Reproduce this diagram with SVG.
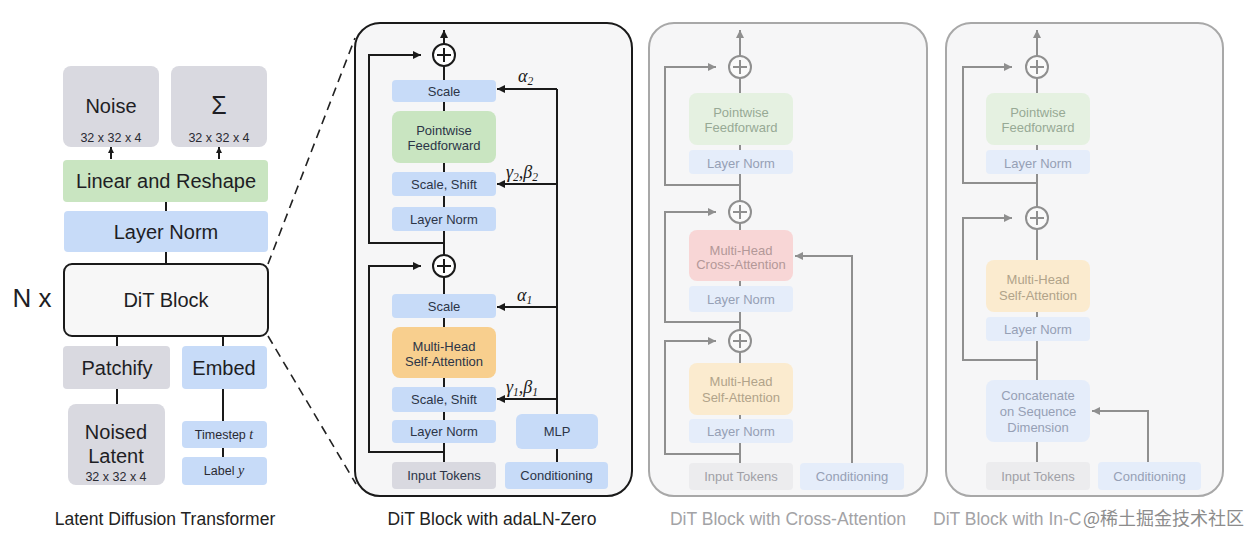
<svg xmlns="http://www.w3.org/2000/svg" width="1246" height="536" viewBox="0 0 1246 536">
<defs>
<style>
text{font-family:"Liberation Sans",Arial,sans-serif;text-anchor:middle}
.b20{font-size:20px;fill:#1e1e24}
.s12{font-size:12.5px;fill:#2a2a32}
.s13{font-size:13px;fill:#2c3547}
.cap{font-size:17.5px;fill:#222}
.capf{font-size:17.5px;fill:#a3a3a6}
.gk{font-family:"Liberation Serif","Times New Roman",serif;font-style:italic;font-size:18px;fill:#1a1a1a;text-anchor:start}
.sub{font-size:11.5px}
.ln{stroke:#1a1a1a;stroke-width:2;fill:none}
.lnf{stroke:#8f8f8f;stroke-width:2;fill:none}
.dash{stroke:#222;stroke-width:1.6;fill:none;stroke-dasharray:9 6}
.gray{fill:#d9d9e0}
.green{fill:#c9e5c1}
.blue{fill:#c7dbf8}
.orange{fill:#f8cf8e}
.panel{fill:#f6f6f7}
.fgreen{fill:#e5f1e1}
.fblue{fill:#e5edfa}
.fpink{fill:#f8d6d6}
.forange{fill:#fbebcf}
.fgray{fill:#ececee}
.tg{font-size:13px;fill:#97a995}
.tb{font-size:13px;fill:#96a0b5}
.tp{font-size:13px;fill:#b39898}
.to{font-size:13px;fill:#b1a38a}
.ty{font-size:13px;fill:#a0a0a6}
.circ{fill:#ffffff;stroke:#1a1a1a;stroke-width:2}
.circf{fill:#fafafa;stroke:#8f8f8f;stroke-width:2}
</style>
<marker id="ah" viewBox="0 0 10 10" refX="10" refY="5" markerWidth="8" markerHeight="8" markerUnits="userSpaceOnUse" orient="auto"><path d="M0,0 L10,5 L0,10 z" fill="#1a1a1a"/></marker>
<marker id="ahs" viewBox="0 0 10 10" refX="10" refY="5" markerWidth="6" markerHeight="6" markerUnits="userSpaceOnUse" orient="auto"><path d="M0,0 L10,5 L0,10 z" fill="#1a1a1a"/></marker>
<marker id="ahg" viewBox="0 0 10 10" refX="10" refY="5" markerWidth="8" markerHeight="8" markerUnits="userSpaceOnUse" orient="auto"><path d="M0,0 L10,5 L0,10 z" fill="#8f8f8f"/></marker>
</defs>
<rect width="1246" height="536" fill="#ffffff"/>

<!-- Panels -->
<g id="panel-adaln"><rect class="panel" x="355" y="23" width="277" height="473" rx="25" stroke="#1a1a1a" stroke-width="2"/></g>
<g id="panel-cross"><rect class="panel" x="649" y="23" width="278" height="473" rx="25" stroke="#a8a8a8" stroke-width="2"/></g>
<g id="panel-incontext"><rect class="panel" x="946" y="23" width="277" height="473" rx="25" stroke="#a8a8a8" stroke-width="2"/></g>

<!-- Connectors -->
<g id="connectors">
  <!-- left panel -->
  <line class="ln" x1="111" y1="159" x2="111" y2="147" marker-end="url(#ahs)"/>
  <line class="ln" x1="219" y1="159" x2="219" y2="147" marker-end="url(#ahs)"/>
  <line class="ln" x1="166" y1="202" x2="166" y2="211"/>
  <line class="ln" x1="166" y1="252" x2="166" y2="264"/>
  <line class="ln" x1="117" y1="336" x2="117" y2="346"/>
  <line class="ln" x1="223" y1="336" x2="223" y2="346"/>
  <line class="ln" x1="117" y1="389" x2="117" y2="404"/>
  <line class="ln" x1="223" y1="389" x2="223" y2="421"/>
  <line class="ln" x1="223" y1="448" x2="223" y2="457"/>
  <line class="dash" x1="268" y1="264" x2="355" y2="38"/>
  <line class="dash" x1="268" y1="336" x2="356" y2="484"/>

  <!-- adaLN panel -->
  <line class="ln" x1="444" y1="44" x2="444" y2="30" marker-end="url(#ah)"/>
  <line class="ln" x1="444" y1="66" x2="444" y2="80"/>
  <line class="ln" x1="444" y1="102" x2="444" y2="111"/>
  <line class="ln" x1="444" y1="163" x2="444" y2="172"/>
  <line class="ln" x1="444" y1="196" x2="444" y2="207"/>
  <line class="ln" x1="444" y1="231" x2="444" y2="255"/>
  <polyline class="ln" points="444,243 369,243 369,55 421,55" marker-end="url(#ah)"/>
  <line class="ln" x1="444" y1="277" x2="444" y2="294"/>
  <line class="ln" x1="444" y1="318" x2="444" y2="327"/>
  <line class="ln" x1="444" y1="378" x2="444" y2="387"/>
  <line class="ln" x1="444" y1="412" x2="444" y2="420"/>
  <line class="ln" x1="444" y1="443" x2="444" y2="462"/>
  <polyline class="ln" points="444,452 369,452 369,266 421,266" marker-end="url(#ah)"/>
  <line class="ln" x1="557" y1="89" x2="557" y2="414"/>
  <line class="ln" x1="557" y1="449" x2="557" y2="462"/>
  <line class="ln" x1="557" y1="89" x2="497" y2="89" marker-end="url(#ah)"/>
  <line class="ln" x1="557" y1="184" x2="497" y2="184" marker-end="url(#ah)"/>
  <line class="ln" x1="557" y1="307" x2="497" y2="307" marker-end="url(#ah)"/>
  <line class="ln" x1="557" y1="399" x2="497" y2="399" marker-end="url(#ah)"/>

  <!-- cross-attention panel -->
  <line class="lnf" x1="740" y1="56" x2="740" y2="30" marker-end="url(#ahg)"/>
  <line class="lnf" x1="740" y1="78" x2="740" y2="93"/>
  <line class="lnf" x1="740" y1="145" x2="740" y2="150"/>
  <line class="lnf" x1="740" y1="174" x2="740" y2="201"/>
  <polyline class="lnf" points="740,185 665,185 665,67 716,67" marker-end="url(#ahg)"/>
  <line class="lnf" x1="740" y1="223" x2="740" y2="230"/>
  <line class="lnf" x1="740" y1="281" x2="740" y2="286"/>
  <line class="lnf" x1="740" y1="312" x2="740" y2="330"/>
  <polyline class="lnf" points="740,322 665,322 665,212 716,212" marker-end="url(#ahg)"/>
  <line class="lnf" x1="740" y1="352" x2="740" y2="363"/>
  <line class="lnf" x1="740" y1="415" x2="740" y2="419"/>
  <line class="lnf" x1="740" y1="443" x2="740" y2="463"/>
  <polyline class="lnf" points="740,454 665,454 665,341 716,341" marker-end="url(#ahg)"/>
  <polyline class="lnf" points="852,463 852,256 795,256" marker-end="url(#ahg)"/>

  <!-- in-context panel -->
  <line class="lnf" x1="1037" y1="56" x2="1037" y2="30" marker-end="url(#ahg)"/>
  <line class="lnf" x1="1037" y1="78" x2="1037" y2="93"/>
  <line class="lnf" x1="1037" y1="145" x2="1037" y2="150"/>
  <line class="lnf" x1="1037" y1="174" x2="1037" y2="207"/>
  <polyline class="lnf" points="1037,183 963,183 963,67 1012,67" marker-end="url(#ahg)"/>
  <line class="lnf" x1="1037" y1="229" x2="1037" y2="260"/>
  <line class="lnf" x1="1037" y1="312" x2="1037" y2="317"/>
  <line class="lnf" x1="1037" y1="341" x2="1037" y2="380"/>
  <polyline class="lnf" points="1037,360 963,360 963,218 1012,218" marker-end="url(#ahg)"/>
  <line class="lnf" x1="1037" y1="442" x2="1037" y2="462"/>
  <polyline class="lnf" points="1148,462 1148,411 1092,411" marker-end="url(#ahg)"/>
</g>

<!-- Left panel nodes -->
<g id="noise"><rect class="gray" x="63" y="66" width="96" height="81" rx="8"/><text class="b20" x="111" y="113">Noise</text><text class="s12" x="111" y="142">32 x 32 x 4</text></g>
<g id="sigma"><rect class="gray" x="171" y="66" width="96" height="81" rx="8"/><text class="b20" x="219" y="114" style="font-size:25px">Σ</text><text class="s12" x="219" y="142">32 x 32 x 4</text></g>
<g id="linear-reshape"><rect class="green" x="63" y="160" width="205" height="42" rx="4"/><text class="b20" x="166" y="188">Linear and Reshape</text></g>
<g id="layer-norm-out"><rect class="blue" x="64" y="211" width="204" height="41" rx="4"/><text class="b20" x="166" y="239">Layer Norm</text></g>
<g id="dit-block"><rect x="64" y="264" width="204" height="72" rx="8" fill="#f7f7f7" stroke="#1a1a1a" stroke-width="2"/><text class="b20" x="166" y="307">DiT Block</text></g>
<g id="n-x"><text x="32" y="307" style="font-size:26px;fill:#1e1e24">N x</text></g>
<g id="patchify"><rect class="gray" x="63" y="346" width="107" height="43" rx="4"/><text class="b20" x="117" y="375">Patchify</text></g>
<g id="embed"><rect class="blue" x="182" y="346" width="85" height="43" rx="4"/><text class="b20" x="224" y="375">Embed</text></g>
<g id="noised-latent"><rect class="gray" x="68" y="404" width="97" height="81" rx="8"/><text class="b20" x="116" y="439">Noised</text><text class="b20" x="116" y="463">Latent</text><text class="s12" x="116" y="481">32 x 32 x 4</text></g>
<g id="timestep"><rect class="blue" x="182" y="421" width="85" height="27" rx="4"/><text class="s12" x="224" y="439">Timestep <tspan style="font-family:'Liberation Serif',serif;font-style:italic;font-size:14px">t</tspan></text></g>
<g id="label-y"><rect class="blue" x="182" y="457" width="85" height="28" rx="4"/><text class="s12" x="224" y="475">Label <tspan style="font-family:'Liberation Serif',serif;font-style:italic;font-size:14px">y</tspan></text></g>
<g id="cap-ldt"><text class="cap" x="165" y="525">Latent Diffusion Transformer</text></g>

<!-- adaLN-Zero panel nodes -->
<g id="a-plus1"><circle class="circ" cx="444" cy="55" r="11"/><path class="ln" d="M437,55 H451 M444,48 V62"/></g>
<g id="a-scale2"><rect class="blue" x="392" y="80" width="104" height="22" rx="4"/><text class="s13" x="444" y="95.5">Scale</text></g>
<g id="a-ff"><rect class="green" x="392" y="111" width="104" height="52" rx="8"/><text class="s13" x="444" y="134.5">Pointwise</text><text class="s13" x="444" y="149.5">Feedforward</text></g>
<g id="a-ss2"><rect class="blue" x="392" y="172" width="104" height="24" rx="4"/><text class="s13" x="444" y="188.5">Scale, Shift</text></g>
<g id="a-ln2"><rect class="blue" x="392" y="207" width="104" height="24" rx="4"/><text class="s13" x="444" y="223.5">Layer Norm</text></g>
<g id="a-plus2"><circle class="circ" cx="444" cy="266" r="11"/><path class="ln" d="M437,266 H451 M444,259 V273"/></g>
<g id="a-scale1"><rect class="blue" x="392" y="294" width="104" height="24" rx="4"/><text class="s13" x="444" y="310.5">Scale</text></g>
<g id="a-mhsa"><rect class="orange" x="392" y="327" width="104" height="51" rx="8"/><text class="s13" x="444" y="351">Multi-Head</text><text class="s13" x="444" y="365.5">Self-Attention</text></g>
<g id="a-ss1"><rect class="blue" x="392" y="387" width="104" height="25" rx="4"/><text class="s13" x="444" y="404">Scale, Shift</text></g>
<g id="a-ln1"><rect class="blue" x="392" y="420" width="104" height="23" rx="4"/><text class="s13" x="444" y="436">Layer Norm</text></g>
<g id="a-input"><rect class="gray" x="392" y="462" width="104" height="27" rx="4"/><text class="s13" x="444" y="480">Input Tokens</text></g>
<g id="a-mlp"><rect class="blue" x="516" y="414" width="82" height="35" rx="6"/><text class="s13" x="557" y="436">MLP</text></g>
<g id="a-cond"><rect class="blue" x="505" y="462" width="103" height="27" rx="4"/><text class="s13" x="556.5" y="480">Conditioning</text></g>
<g id="a-labels">
  <text class="gk" x="518" y="82">α<tspan class="sub" dy="3">2</tspan></text>
  <text class="gk" x="506" y="178">γ<tspan class="sub" dy="3">2</tspan><tspan dy="-3">,β</tspan><tspan class="sub" dy="3">2</tspan></text>
  <text class="gk" x="517" y="301">α<tspan class="sub" dy="3">1</tspan></text>
  <text class="gk" x="506" y="393">γ<tspan class="sub" dy="3">1</tspan><tspan dy="-3">,β</tspan><tspan class="sub" dy="3">1</tspan></text>
</g>
<g id="cap-adaln"><text class="cap" x="492" y="525">DiT Block with adaLN-Zero</text></g>

<!-- Cross-attention panel nodes -->
<g id="c-plus1"><circle class="circf" cx="740" cy="67" r="11"/><path class="lnf" d="M733,67 H747 M740,60 V74"/></g>
<g id="c-ff"><rect class="fgreen" x="689" y="93" width="104" height="52" rx="8"/><text class="tg" x="741" y="116.5">Pointwise</text><text class="tg" x="741" y="131.5">Feedforward</text></g>
<g id="c-ln3"><rect class="fblue" x="689" y="150" width="104" height="24" rx="4"/><text class="tb" x="741" y="167.5">Layer Norm</text></g>
<g id="c-plus2"><circle class="circf" cx="740" cy="212" r="11"/><path class="lnf" d="M733,212 H747 M740,205 V219"/></g>
<g id="c-mhca"><rect class="fpink" x="689" y="230" width="104" height="51" rx="8"/><text class="tp" x="741" y="254.5">Multi-Head</text><text class="tp" x="741" y="268.5">Cross-Attention</text></g>
<g id="c-ln2"><rect class="fblue" x="689" y="286" width="104" height="26" rx="4"/><text class="tb" x="741" y="303.5">Layer Norm</text></g>
<g id="c-plus3"><circle class="circf" cx="740" cy="341" r="11"/><path class="lnf" d="M733,341 H747 M740,334 V348"/></g>
<g id="c-mhsa"><rect class="forange" x="689" y="363" width="104" height="52" rx="8"/><text class="to" x="741" y="386">Multi-Head</text><text class="to" x="741" y="401.5">Self-Attention</text></g>
<g id="c-ln1"><rect class="fblue" x="689" y="419" width="104" height="24" rx="4"/><text class="tb" x="741" y="435.5">Layer Norm</text></g>
<g id="c-input"><rect class="fgray" x="689" y="463" width="104" height="27" rx="4"/><text class="ty" x="741" y="481">Input Tokens</text></g>
<g id="c-cond"><rect class="fblue" x="800" y="463" width="104" height="27" rx="4"/><text class="tb" x="852" y="481">Conditioning</text></g>
<g id="cap-cross"><text class="capf" x="788" y="525">DiT Block with Cross-Attention</text></g>

<!-- In-context panel nodes -->
<g id="i-plus1"><circle class="circf" cx="1037" cy="67" r="11"/><path class="lnf" d="M1030,67 H1044 M1037,60 V74"/></g>
<g id="i-ff"><rect class="fgreen" x="986" y="93" width="104" height="52" rx="8"/><text class="tg" x="1038" y="116.5">Pointwise</text><text class="tg" x="1038" y="131.5">Feedforward</text></g>
<g id="i-ln2"><rect class="fblue" x="986" y="150" width="104" height="24" rx="4"/><text class="tb" x="1038" y="167.5">Layer Norm</text></g>
<g id="i-plus2"><circle class="circf" cx="1037" cy="218" r="11"/><path class="lnf" d="M1030,218 H1044 M1037,211 V225"/></g>
<g id="i-mhsa"><rect class="forange" x="986" y="260" width="104" height="52" rx="8"/><text class="to" x="1038" y="283.5">Multi-Head</text><text class="to" x="1038" y="299.5">Self-Attention</text></g>
<g id="i-ln1"><rect class="fblue" x="986" y="317" width="104" height="24" rx="4"/><text class="tb" x="1038" y="333.5">Layer Norm</text></g>
<g id="i-concat"><rect class="fblue" x="986" y="380" width="104" height="62" rx="8"/><text class="tb" x="1038" y="400">Concatenate</text><text class="tb" x="1038" y="416">on Sequence</text><text class="tb" x="1038" y="432">Dimension</text></g>
<g id="i-input"><rect class="fgray" x="986" y="462" width="104" height="28" rx="4"/><text class="ty" x="1038" y="481">Input Tokens</text></g>
<g id="i-cond"><rect class="fblue" x="1098" y="462" width="103" height="28" rx="4"/><text class="tb" x="1149.5" y="481">Conditioning</text></g>
<g id="cap-incontext"><text class="capf" x="933" y="525" style="text-anchor:start">DiT Block with In-C</text></g>
<g id="watermark"><text x="1083" y="525" style="text-anchor:start;font-family:'Noto Sans CJK SC','Liberation Sans',sans-serif;font-size:18px;fill:#8c8c8c;stroke:#ffffff;stroke-width:0.6;paint-order:stroke">@稀土掘金技术社区</text></g>
</svg>
